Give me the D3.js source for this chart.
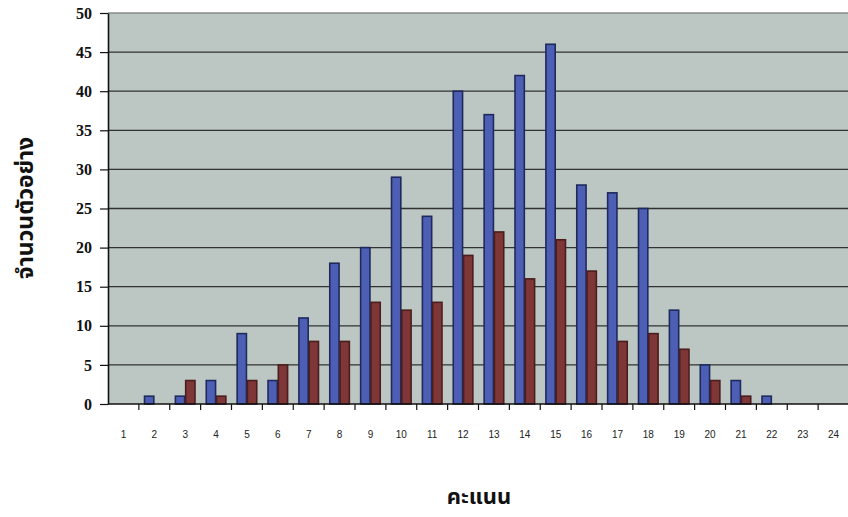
<!DOCTYPE html>
<html>
<head>
<meta charset="utf-8">
<script src="https://cdn.jsdelivr.net/npm/d3@7"></script>
<style>
  html, body { margin: 0; padding: 0; background: #ffffff; }
  svg { display: block; }
</style>
</head>
<body>
<svg id="chart" width="848" height="517"></svg>
<script>
// Score distribution: number of samples per score, two groups
const scores = d3.range(1, 25).map(String);
const groupA = [0, 1, 1, 3, 9, 3, 11, 18, 20, 29, 24, 40, 37, 42, 46, 28, 27, 25, 12, 5, 3, 1, 0, 0];
const groupB = [0, 0, 3, 1, 3, 5, 8, 8, 13, 12, 13, 19, 22, 16, 21, 17, 8, 9, 7, 3, 1, 0, 0, 0];
const yTicks = [0, 5, 10, 15, 20, 25, 30, 35, 40, 45, 50];
const seriesNames = ["groupA", "groupB"];
const yTitle = "จำนวนตัวอย่าง";
const xTitle = "คะแนน";

const svg = d3.select("#chart");
const plot = { left: 108, right: 849, top: 13, bottom: 404 };

const x = d3.scaleBand().domain(scores).range([plot.left, plot.right]).padding(0);
const xs = d3.scaleBand().domain(seriesNames)
  .range([x.bandwidth() / 6, x.bandwidth() * 5 / 6]).padding(0);
const y = d3.scaleLinear().domain([0, 50]).range([plot.bottom, plot.top]);

// plot background
svg.append("rect")
  .attr("x", plot.left).attr("y", plot.top)
  .attr("width", plot.right - plot.left).attr("height", plot.bottom - plot.top)
  .attr("fill", "#bcc6c2");

// horizontal gridlines
svg.append("g").selectAll("line").data(yTicks.filter(d => d > 0)).join("line")
  .attr("x1", plot.left).attr("x2", plot.right)
  .attr("y1", d => y(d)).attr("y2", d => y(d))
  .attr("stroke", d => d === 50 ? "#7d8480" : "#222")
  .attr("stroke-width", d => d === 50 ? 1.5 : 1.3)
  .attr("opacity", 0.9);

// bars
const data = scores.map((s, i) => ({ s, vals: [groupA[i], groupB[i]] }));
const fills = { groupA: "#4d5fb5", groupB: "#7f3636" };
const strokes = { groupA: "#1f2a5c", groupB: "#4a1e1e" };

const groups = svg.append("g").selectAll("g").data(data).join("g")
  .attr("transform", d => `translate(${x(d.s)},0)`);
groups.selectAll("rect")
  .data(d => seriesNames.map((k, j) => ({ k, v: d.vals[j] })).filter(e => e.v > 0))
  .join("rect")
  .attr("x", e => xs(e.k) + 0.5)
  .attr("width", xs.bandwidth() - 1)
  .attr("y", e => y(e.v))
  .attr("height", e => y(0) - y(e.v))
  .attr("fill", e => fills[e.k])
  .attr("stroke", e => strokes[e.k])
  .attr("stroke-width", 1.6);

// y axis
const yAxis = svg.append("g")
  .attr("transform", `translate(${plot.left},0)`)
  .call(d3.axisLeft(y).tickValues(yTicks).tickSize(8).tickPadding(8).tickSizeOuter(0));
yAxis.select(".domain").attr("stroke", "#111").attr("stroke-width", 1.6);
yAxis.selectAll(".tick line").attr("stroke", "#111").attr("stroke-width", 1.2);
yAxis.selectAll("text")
  .attr("font-family", "'Liberation Serif', 'DejaVu Serif', serif")
  .attr("font-weight", "bold").attr("font-size", 16).attr("fill", "#111");

// x axis: ticks on category boundaries, labels centred below
const xAxisG = svg.append("g").attr("transform", `translate(0,${plot.bottom})`);
xAxisG.append("line")
  .attr("x1", plot.left).attr("x2", plot.right)
  .attr("stroke", "#111").attr("stroke-width", 1.6);
xAxisG.selectAll("line.tk").data(scores).join("line").attr("class", "tk")
  .attr("x1", d => x(d) + x.bandwidth()).attr("x2", d => x(d) + x.bandwidth())
  .attr("y1", 0).attr("y2", 6)
  .attr("stroke", "#111").attr("stroke-width", 1.2);
xAxisG.selectAll("text").data(scores).join("text")
  .attr("x", d => x(d) + x.bandwidth() / 2)
  .attr("y", 34)
  .attr("text-anchor", "middle")
  .attr("font-family", "'Liberation Sans', Arial, sans-serif")
  .attr("font-size", 10).attr("fill", "#222")
  .text(d => d);

// axis titles
svg.append("text")
  .attr("transform", "translate(33,208) rotate(-90)")
  .attr("text-anchor", "middle")
  .attr("font-family", "'Noto Sans Thai', 'Noto Serif Thai', 'Noto Sans', sans-serif")
  .attr("font-weight", "bold").attr("font-size", 23).attr("fill", "#111")
  .text(yTitle);
svg.append("text")
  .attr("x", 479).attr("y", 504)
  .attr("text-anchor", "middle")
  .attr("font-family", "'Noto Sans Thai', 'Noto Serif Thai', 'Noto Sans', sans-serif")
  .attr("font-weight", "bold").attr("font-size", 22).attr("fill", "#111")
  .text(xTitle);
</script>
</body>
</html>
